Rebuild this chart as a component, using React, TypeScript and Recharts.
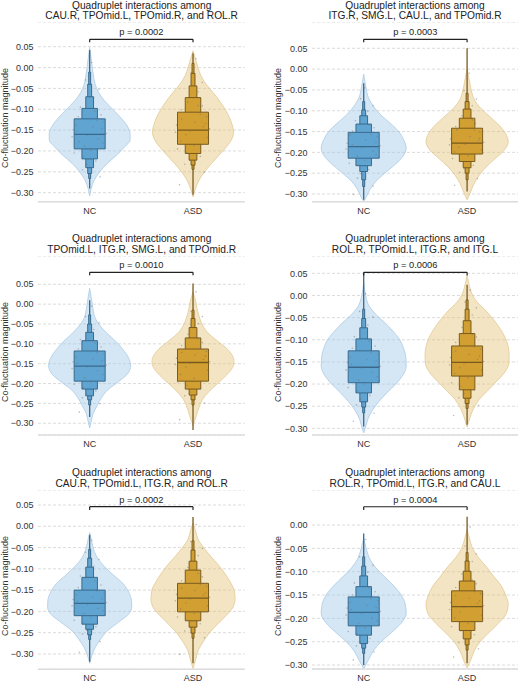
import React from 'react';
import {
  ComposedChart,
  Area,
  XAxis,
  YAxis,
  CartesianGrid,
  ReferenceArea,
  ReferenceLine,
  Scatter,
} from 'recharts';

// ---------------- data ----------------
const categories = ['NC', 'ASD'];

const titleLine1 = [
  'Quadruplet interactions among',
  'Quadruplet interactions among',
  'Quadruplet interactions among',
  'Quadruplet interactions among',
  'Quadruplet interactions among',
  'Quadruplet interactions among',
];
const titleLine2 = [
  'CAU.R, TPOmid.L, TPOmid.R, and ROL.R',
  'ITG.R, SMG.L, CAU.L, and TPOmid.R',
  'TPOmid.L, ITG.R, SMG.L, and TPOmid.R',
  'ROL.R, TPOmid.L, ITG.R, and ITG.L',
  'CAU.R, TPOmid.L, ITG.R, and ROL.R',
  'ROL.R, TPOmid.L, ITG.R, and CAU.L',
];
const pLabels = ['p = 0.0002', 'p = 0.0003', 'p = 0.0010', 'p = 0.0006', 'p = 0.0002', 'p = 0.0004'];
const bracketTop = [0.0677, 0.0716, 0.0802, 0.0523, 0.046, 0.0392];
const bracketFoot = [0.0605, 0.0644, 0.0727, 0.0453, 0.0383, 0.032];

const yTicksFull = [0.05, 0, -0.05, -0.1, -0.15, -0.2, -0.25, -0.3];
const yTicksNoTop = [0, -0.05, -0.1, -0.15, -0.2, -0.25, -0.3];
const yTickSets = [yTicksFull, yTicksFull, yTicksFull, yTicksFull, yTicksFull, yTicksNoTop];
const yAxisLabel = 'Co-fluctuation magnitude';

// violin profiles: [value, half-width in category units]
const p1NcViolin = [[0.048, 0], [0.02, 0.015], [-0.015, 0.034], [-0.04, 0.053], [-0.06, 0.087], [-0.08, 0.145], [-0.1, 0.223], [-0.12, 0.3], [-0.14, 0.363], [-0.16, 0.392], [-0.175, 0.39], [-0.19, 0.339], [-0.21, 0.261], [-0.23, 0.169], [-0.25, 0.097], [-0.27, 0.044], [-0.29, 0.015], [-0.308, 0]];
const p1AsdViolin = [[0.04, 0], [0.02, 0.024], [0, 0.048], [-0.02, 0.077], [-0.04, 0.126], [-0.06, 0.194], [-0.08, 0.257], [-0.1, 0.31], [-0.12, 0.353], [-0.14, 0.382], [-0.155, 0.392], [-0.17, 0.378], [-0.19, 0.324], [-0.21, 0.252], [-0.23, 0.179], [-0.25, 0.111], [-0.27, 0.058], [-0.29, 0.024], [-0.31, 0]];
const p2NcViolin = [[-0.012, 0], [-0.04, 0.019], [-0.07, 0.048], [-0.09, 0.097], [-0.11, 0.165], [-0.13, 0.257], [-0.15, 0.339], [-0.17, 0.387], [-0.19, 0.411], [-0.21, 0.378], [-0.23, 0.3], [-0.25, 0.203], [-0.27, 0.116], [-0.29, 0.058], [-0.31, 0.019], [-0.318, 0]];
const p2AsdViolin = [[0, 0], [-0.03, 0.024], [-0.055, 0.044], [-0.075, 0.073], [-0.095, 0.136], [-0.115, 0.223], [-0.135, 0.31], [-0.155, 0.373], [-0.175, 0.397], [-0.195, 0.358], [-0.215, 0.271], [-0.235, 0.184], [-0.255, 0.116], [-0.275, 0.068], [-0.295, 0.034], [-0.314, 0]];
const p3NcViolin = [[0.04, 0], [0.01, 0.019], [-0.015, 0.034], [-0.035, 0.053], [-0.055, 0.102], [-0.075, 0.174], [-0.095, 0.257], [-0.115, 0.324], [-0.135, 0.376], [-0.155, 0.397], [-0.175, 0.368], [-0.195, 0.281], [-0.215, 0.179], [-0.235, 0.116], [-0.255, 0.073], [-0.275, 0.034], [-0.295, 0.015], [-0.312, 0]];
const p3AsdViolin = [[0.03, 0], [0.01, 0.024], [-0.01, 0.039], [-0.03, 0.058], [-0.05, 0.087], [-0.07, 0.136], [-0.09, 0.223], [-0.11, 0.319], [-0.13, 0.382], [-0.145, 0.397], [-0.16, 0.382], [-0.18, 0.319], [-0.2, 0.237], [-0.22, 0.155], [-0.24, 0.092], [-0.26, 0.058], [-0.28, 0.034], [-0.305, 0]];
const p4NcViolin = [[0.03, 0], [0, 0.019], [-0.02, 0.044], [-0.04, 0.106], [-0.06, 0.198], [-0.08, 0.281], [-0.1, 0.349], [-0.12, 0.387], [-0.14, 0.407], [-0.16, 0.411], [-0.18, 0.378], [-0.2, 0.31], [-0.22, 0.223], [-0.24, 0.145], [-0.26, 0.082], [-0.28, 0.039], [-0.3, 0.015], [-0.31, 0]];
const p4AsdViolin = [[0.045, 0], [0.025, 0.019], [0.005, 0.044], [-0.015, 0.097], [-0.035, 0.184], [-0.055, 0.257], [-0.075, 0.319], [-0.095, 0.368], [-0.115, 0.397], [-0.135, 0.407], [-0.155, 0.402], [-0.175, 0.358], [-0.195, 0.281], [-0.215, 0.198], [-0.235, 0.116], [-0.255, 0.063], [-0.275, 0.029], [-0.297, 0]];
const p5NcViolin = [[-0.015, 0], [-0.035, 0.019], [-0.055, 0.039], [-0.075, 0.077], [-0.095, 0.145], [-0.115, 0.232], [-0.135, 0.324], [-0.155, 0.378], [-0.175, 0.405], [-0.19, 0.407], [-0.205, 0.382], [-0.225, 0.281], [-0.245, 0.174], [-0.265, 0.106], [-0.285, 0.053], [-0.305, 0.019], [-0.322, 0]];
const p5AsdViolin = [[0.008, 0], [-0.01, 0.024], [-0.03, 0.048], [-0.05, 0.102], [-0.07, 0.169], [-0.09, 0.242], [-0.11, 0.305], [-0.13, 0.358], [-0.15, 0.397], [-0.17, 0.407], [-0.19, 0.387], [-0.21, 0.319], [-0.23, 0.237], [-0.25, 0.16], [-0.27, 0.102], [-0.29, 0.053], [-0.31, 0.029], [-0.334, 0]];
const p6NcViolin = [[-0.028, 0], [-0.05, 0.024], [-0.07, 0.053], [-0.09, 0.111], [-0.11, 0.198], [-0.13, 0.29], [-0.15, 0.363], [-0.17, 0.402], [-0.19, 0.411], [-0.21, 0.363], [-0.23, 0.271], [-0.25, 0.169], [-0.27, 0.092], [-0.29, 0.044], [-0.308, 0]];
const p6AsdViolin = [[-0.01, 0], [-0.03, 0.024], [-0.05, 0.053], [-0.07, 0.111], [-0.09, 0.189], [-0.11, 0.257], [-0.13, 0.329], [-0.15, 0.373], [-0.17, 0.397], [-0.19, 0.378], [-0.21, 0.305], [-0.23, 0.213], [-0.25, 0.126], [-0.27, 0.068], [-0.29, 0.034], [-0.306, 0]];

// letter-value boxes, level 1 (IQR) .. level 5: [low, high]
const p1NcBoxen = [[-0.195, -0.123], [-0.219, -0.098], [-0.24, -0.07], [-0.254, -0.04], [-0.266, -0.011]];
const p1AsdBoxen = [[-0.184, -0.107], [-0.206, -0.072], [-0.222, -0.044], [-0.234, -0.014], [-0.244, 0.01]];
const p2NcBoxen = [[-0.214, -0.152], [-0.232, -0.132], [-0.246, -0.112], [-0.266, -0.098], [-0.282, -0.078]];
const p2AsdBoxen = [[-0.204, -0.142], [-0.222, -0.118], [-0.237, -0.096], [-0.25, -0.078], [-0.266, -0.058]];
const p3NcBoxen = [[-0.194, -0.118], [-0.214, -0.092], [-0.231, -0.071], [-0.241, -0.05], [-0.254, -0.027]];
const p3AsdBoxen = [[-0.194, -0.113], [-0.214, -0.085], [-0.229, -0.059], [-0.241, -0.036], [-0.254, -0.015]];
const p4NcBoxen = [[-0.197, -0.125], [-0.22, -0.098], [-0.24, -0.073], [-0.252, -0.052], [-0.265, -0.031]];
const p4AsdBoxen = [[-0.182, -0.114], [-0.213, -0.086], [-0.232, -0.057], [-0.244, -0.031], [-0.255, -0.01]];
const p5NcBoxen = [[-0.21, -0.15], [-0.23, -0.12], [-0.242, -0.096], [-0.255, -0.075], [-0.266, -0.054]];
const p5AsdBoxen = [[-0.201, -0.134], [-0.222, -0.103], [-0.237, -0.082], [-0.251, -0.056], [-0.263, -0.034]];
const p6NcBoxen = [[-0.216, -0.154], [-0.236, -0.132], [-0.254, -0.109], [-0.264, -0.088], [-0.275, -0.068]];
const p6AsdBoxen = [[-0.207, -0.141], [-0.226, -0.12], [-0.244, -0.099], [-0.257, -0.077], [-0.268, -0.059]];

const ncMedians = [-0.16, -0.186, -0.156, -0.162, -0.181, -0.187];
const asdMedians = [-0.15, -0.178, -0.147, -0.151, -0.169, -0.175];
const ncTails = [[-0.29, 0.042], [-0.314, -0.034], [-0.284, 0.01], [-0.296, 0.05], [-0.318, -0.02], [-0.3, -0.018]];
const asdTails = [[-0.305, 0.034], [-0.294, 0.05], [-0.317, 0.052], [-0.292, 0.024], [-0.322, 0.022], [-0.296, 0.018]];

// jittered observations: [offset from category, value]
const p1NcDots = [[-0.12, -0.152], [0.08, -0.171], [0.14, -0.131], [-0.05, -0.188], [0.03, -0.142], [-0.15, -0.205], [0.11, -0.113], [-0.09, -0.095], [0.06, -0.224], [-0.02, -0.162], [0.13, -0.181], [-0.13, -0.138], [0.04, -0.072], [-0.07, -0.245], [0.1, -0.262], [-0.04, -0.03], [0.02, 0.012], [-0.1, -0.178], [0.16, -0.158], [-0.17, -0.166], [0.07, -0.127], [-0.11, -0.118], [0.01, -0.198], [0.12, -0.146], [-0.06, -0.214], [0.15, -0.192], [-0.16, -0.149], [0.05, -0.105], [-0.03, -0.232], [0.09, -0.052]];
const p1AsdDots = [[0.1, -0.142], [-0.07, -0.161], [0.13, -0.118], [-0.12, -0.176], [0.02, -0.131], [-0.15, -0.195], [0.09, -0.092], [-0.05, -0.083], [0.07, -0.213], [-0.03, -0.152], [0.14, -0.168], [-0.11, -0.124], [0.05, -0.058], [-0.08, -0.232], [0.11, -0.251], [-0.02, -0.012], [0.03, 0.021], [-0.13, -0.281], [0.16, -0.147], [-0.17, -0.155], [0.07, -0.112], [-0.11, -0.101], [0.01, -0.187], [0.12, -0.134], [-0.06, -0.204], [0.15, -0.179], [-0.16, -0.138], [0.05, -0.091], [-0.03, -0.222], [0.09, -0.036]];
const p2NcDots = [[-0.11, -0.181], [0.09, -0.197], [0.13, -0.162], [-0.06, -0.209], [0.02, -0.171], [-0.14, -0.226], [0.1, -0.141], [-0.08, -0.124], [0.05, -0.241], [-0.02, -0.189], [0.12, -0.205], [-0.13, -0.158], [0.04, -0.101], [-0.06, -0.262], [0.09, -0.281], [-0.03, -0.071], [0.01, -0.045], [-0.1, -0.301], [0.16, -0.184], [-0.17, -0.192], [0.07, -0.157], [-0.11, -0.149], [0.01, -0.219], [0.12, -0.176], [-0.06, -0.231], [0.15, -0.212], [-0.16, -0.178], [0.05, -0.134], [-0.03, -0.251], [0.09, -0.088]];
const p2AsdDots = [[0.11, -0.171], [-0.08, -0.188], [0.12, -0.151], [-0.12, -0.199], [0.03, -0.162], [-0.14, -0.215], [0.08, -0.131], [-0.05, -0.112], [0.06, -0.231], [-0.02, -0.181], [0.14, -0.194], [-0.1, -0.146], [0.05, -0.088], [-0.07, -0.248], [0.1, -0.263], [-0.03, -0.052], [0.02, -0.01], [-0.12, -0.279], [0.16, -0.176], [-0.17, -0.182], [0.07, -0.147], [-0.11, -0.138], [0.01, -0.208], [0.12, -0.166], [-0.06, -0.222], [0.15, -0.201], [-0.16, -0.168], [0.05, -0.122], [-0.03, -0.239], [0.09, -0.072]];
const p3NcDots = [[-0.12, -0.149], [0.08, -0.168], [0.14, -0.127], [-0.05, -0.186], [0.03, -0.138], [-0.15, -0.202], [0.11, -0.108], [-0.09, -0.089], [0.06, -0.219], [-0.02, -0.158], [0.13, -0.177], [-0.13, -0.133], [0.04, -0.064], [-0.07, -0.236], [0.1, -0.251], [-0.04, -0.031], [0.02, -0.005], [-0.1, -0.272], [0.16, -0.154], [-0.17, -0.162], [0.07, -0.122], [-0.11, -0.113], [0.01, -0.196], [0.12, -0.142], [-0.06, -0.211], [0.15, -0.189], [-0.16, -0.145], [0.05, -0.098], [-0.03, -0.227], [0.09, -0.047]];
const p3AsdDots = [[0.1, -0.139], [-0.07, -0.158], [0.13, -0.119], [-0.12, -0.177], [0.02, -0.128], [-0.15, -0.196], [0.09, -0.097], [-0.05, -0.076], [0.07, -0.214], [-0.03, -0.149], [0.14, -0.166], [-0.11, -0.122], [0.05, -0.049], [-0.08, -0.231], [0.11, -0.249], [-0.02, -0.018], [0.03, 0.031], [-0.13, -0.291], [0.16, -0.145], [-0.17, -0.152], [0.07, -0.111], [-0.11, -0.104], [0.01, -0.187], [0.12, -0.131], [-0.06, -0.205], [0.15, -0.178], [-0.16, -0.136], [0.05, -0.087], [-0.03, -0.222], [0.09, -0.031]];
const p4NcDots = [[-0.12, -0.155], [0.08, -0.174], [0.14, -0.134], [-0.05, -0.191], [0.03, -0.145], [-0.15, -0.208], [0.11, -0.114], [-0.09, -0.093], [0.06, -0.226], [-0.02, -0.164], [0.13, -0.183], [-0.13, -0.139], [0.04, -0.067], [-0.07, -0.247], [0.1, -0.266], [-0.04, -0.036], [0.02, 0.004], [-0.1, -0.284], [0.16, -0.16], [-0.17, -0.168], [0.07, -0.128], [-0.11, -0.119], [0.01, -0.2], [0.12, -0.148], [-0.06, -0.216], [0.15, -0.194], [-0.16, -0.151], [0.05, -0.103], [-0.03, -0.234], [0.09, -0.049]];
const p4AsdDots = [[0.1, -0.144], [-0.07, -0.163], [0.13, -0.121], [-0.12, -0.176], [0.02, -0.133], [-0.15, -0.197], [0.09, -0.094], [-0.05, -0.072], [0.07, -0.214], [-0.03, -0.153], [0.14, -0.169], [-0.11, -0.126], [0.05, -0.044], [-0.08, -0.231], [0.11, -0.248], [-0.02, -0.015], [0.03, 0.012], [-0.13, -0.271], [0.16, -0.149], [-0.17, -0.157], [0.07, -0.116], [-0.11, -0.106], [0.01, -0.186], [0.12, -0.137], [-0.06, -0.205], [0.15, -0.179], [-0.16, -0.14], [0.05, -0.088], [-0.03, -0.221], [0.09, -0.028]];
const p5NcDots = [[-0.12, -0.176], [0.08, -0.193], [0.14, -0.157], [-0.05, -0.205], [0.03, -0.166], [-0.15, -0.221], [0.11, -0.138], [-0.09, -0.117], [0.06, -0.236], [-0.02, -0.184], [0.13, -0.199], [-0.13, -0.161], [0.04, -0.094], [-0.07, -0.253], [0.1, -0.271], [-0.04, -0.061], [0.02, -0.033], [-0.1, -0.296], [0.16, -0.179], [-0.17, -0.187], [0.07, -0.152], [-0.11, -0.144], [0.01, -0.214], [0.12, -0.171], [-0.06, -0.228], [0.15, -0.208], [-0.16, -0.172], [0.05, -0.128], [-0.03, -0.244], [0.09, -0.078]];
const p5AsdDots = [[0.1, -0.162], [-0.07, -0.181], [0.13, -0.141], [-0.12, -0.194], [0.02, -0.151], [-0.15, -0.213], [0.09, -0.119], [-0.05, -0.097], [0.07, -0.229], [-0.03, -0.171], [0.14, -0.187], [-0.11, -0.146], [0.05, -0.069], [-0.08, -0.246], [0.11, -0.262], [-0.02, -0.036], [0.03, 0.004], [-0.13, -0.301], [0.16, -0.167], [-0.17, -0.175], [0.07, -0.137], [-0.11, -0.128], [0.01, -0.205], [0.12, -0.157], [-0.06, -0.221], [0.15, -0.197], [-0.16, -0.16], [0.05, -0.111], [-0.03, -0.238], [0.09, -0.052]];
const p6NcDots = [[-0.12, -0.181], [0.08, -0.199], [0.14, -0.162], [-0.05, -0.211], [0.03, -0.172], [-0.15, -0.228], [0.11, -0.143], [-0.09, -0.124], [0.06, -0.243], [-0.02, -0.19], [0.13, -0.205], [-0.13, -0.166], [0.04, -0.101], [-0.07, -0.259], [0.1, -0.272], [-0.04, -0.068], [0.02, -0.031], [-0.1, -0.289], [0.16, -0.185], [-0.17, -0.193], [0.07, -0.158], [-0.11, -0.15], [0.01, -0.22], [0.12, -0.177], [-0.06, -0.234], [0.15, -0.214], [-0.16, -0.178], [0.05, -0.135], [-0.03, -0.25], [0.09, -0.086]];
const p6AsdDots = [[0.1, -0.168], [-0.07, -0.186], [0.13, -0.147], [-0.12, -0.199], [0.02, -0.157], [-0.15, -0.218], [0.09, -0.126], [-0.05, -0.105], [0.07, -0.235], [-0.03, -0.177], [0.14, -0.193], [-0.11, -0.151], [0.05, -0.078], [-0.08, -0.252], [0.11, -0.265], [-0.02, -0.045], [0.03, -0.004], [-0.13, -0.283], [0.16, -0.173], [-0.17, -0.181], [0.07, -0.143], [-0.11, -0.134], [0.01, -0.211], [0.12, -0.163], [-0.06, -0.227], [0.15, -0.203], [-0.16, -0.166], [0.05, -0.118], [-0.03, -0.243], [0.09, -0.062]];

const ncViolins = [p1NcViolin, p2NcViolin, p3NcViolin, p4NcViolin, p5NcViolin, p6NcViolin];
const asdViolins = [p1AsdViolin, p2AsdViolin, p3AsdViolin, p4AsdViolin, p5AsdViolin, p6AsdViolin];
const ncBoxens = [p1NcBoxen, p2NcBoxen, p3NcBoxen, p4NcBoxen, p5NcBoxen, p6NcBoxen];
const asdBoxens = [p1AsdBoxen, p2AsdBoxen, p3AsdBoxen, p4AsdBoxen, p5AsdBoxen, p6AsdBoxen];
const ncDots = [p1NcDots, p2NcDots, p3NcDots, p4NcDots, p5NcDots, p6NcDots];
const asdDots = [p1AsdDots, p2AsdDots, p3AsdDots, p4AsdDots, p5AsdDots, p6AsdDots];

// ---------------- layout / style ----------------
const FONT = '"Liberation Sans", Arial, Helvetica, sans-serif';
const Y_AXIS_W = 36;
const X_AXIS_H = 18;
const BOX_HALF_WIDTHS = [0.15, 0.075, 0.0375, 0.019, 0.0095];

const LAYOUT = [
  { pl: 38.3, pr: 245, pt: 22, pb: 201.7, domain: [-0.3216, 0.1092], label: [5.3, 118.3], titleTop: 0.6 },
  { pl: 311.6, pr: 518.4, pt: 22, pb: 201.7, domain: [-0.3185, 0.1132], label: [278, 118.3], titleTop: 0.6 },
  { pl: 38.3, pr: 245, pt: 256, pb: 435, domain: [-0.3296, 0.1213], label: [5.3, 352.3], titleTop: 234 },
  { pl: 311.6, pr: 518.4, pt: 256, pb: 435, domain: [-0.315, 0.0891], label: [278, 352.3], titleTop: 234 },
  { pl: 38.3, pr: 245, pt: 490, pb: 669.3, domain: [-0.336, 0.0852], label: [5.3, 586.3], titleTop: 468 },
  { pl: 311.6, pr: 518.4, pt: 490, pb: 669, domain: [-0.3085, 0.0751], label: [278, 586.3], titleTop: 468 },
];

const GROUP_STYLE = [
  { violinFill: '#9cc4e4', violinStroke: '#b2cfe6', box: '#60a5d2', edge: '#3a698c' },
  { violinFill: '#e3c06f', violinStroke: '#e4cd9b', box: '#d2a032', edge: '#785a1e' },
];

const fmtTick = (v: number) => (v < -1e-9 ? '\u2212' : '') + Math.abs(v).toFixed(2);

const Dot = (props: any) => {
  if (props.cx == null || props.cy == null) return null;
  return <circle cx={props.cx} cy={props.cy} r={0.8} fill="#6f6f6f" fillOpacity={0.45} />;
};

function groupInfo(panel: number, g: number) {
  const center = g;
  const style = GROUP_STYLE[g];
  const violin = (g === 0 ? ncViolins : asdViolins)[panel];
  const boxen = (g === 0 ? ncBoxens : asdBoxens)[panel];
  const median = (g === 0 ? ncMedians : asdMedians)[panel];
  const tail = (g === 0 ? ncTails : asdTails)[panel];
  const rows = violin.map(([y, hw]) => ({ y, range: [center - hw, center + hw] }));
  return { rows, boxen, median, tail, style, center };
}

function Panel({ i }: { i: number }) {
  const L = LAYOUT[i];
  const w = L.pr - L.pl + Y_AXIS_W;
  const h = L.pb - L.pt + X_AXIS_H;
  const groups = [groupInfo(i, 0), groupInfo(i, 1)];
  const dotRows = [
    ...ncDots[i].map(([dx, y]) => ({ x: 0 + dx, y })),
    ...asdDots[i].map(([dx, y]) => ({ x: 1 + dx, y })),
  ];
  const tickStyle = { fontSize: 9, fill: '#333', fontFamily: FONT };
  return (
    <div style={{ position: 'absolute', left: L.pl - Y_AXIS_W, top: L.pt, width: w, height: h }}>
      <ComposedChart width={w} height={h} layout="vertical" margin={{ top: 0, right: 0, bottom: 0, left: 0 }}>
        <CartesianGrid vertical={false} stroke="#d2d2d2" strokeDasharray="3 2" strokeWidth={0.8} />
        <XAxis
          type="number"
          dataKey="x"
          domain={[-0.5, 1.5]}
          ticks={[0, 1]}
          interval={0}
          allowDataOverflow
          height={X_AXIS_H}
          tickLine={false}
          tickSize={0}
          tickMargin={5.5}
          axisLine={{ stroke: '#dcdcdc', strokeWidth: 1.5 }}
          tick={tickStyle}
          tickFormatter={(v: number) => categories[v] ?? ''}
        />
        <YAxis
          type="number"
          dataKey="y"
          domain={L.domain}
          ticks={yTickSets[i]}
          interval={0}
          reversed
          allowDataOverflow
          width={Y_AXIS_W}
          axisLine={false}
          tickLine={false}
          tickSize={0}
          tickMargin={4.5}
          tick={tickStyle}
          tickFormatter={fmtTick}
        />
        {groups.map((gr, g) => (
          <Area
            key={`v${g}`}
            data={gr.rows}
            dataKey="range"
            type="monotone"
            fill={gr.style.violinFill}
            fillOpacity={0.42}
            stroke={gr.style.violinStroke}
            strokeWidth={0.9}
            dot={false}
            activeDot={false}
            isAnimationActive={false}
            zIndex={100 + g}
          />
        ))}
        {groups.map((gr, g) => (
          <ReferenceLine
            key={`t${g}`}
            segment={[{ x: gr.center, y: gr.tail[0] }, { x: gr.center, y: gr.tail[1] }]}
            stroke={gr.style.edge}
            strokeWidth={1.3}
            ifOverflow="hidden"
            zIndex={150}
          />
        ))}
        {groups.map((gr, g) =>
          gr.boxen
            .map((lv, k) => ({ lv, k }))
            .reverse()
            .map(({ lv, k }) => (
              <ReferenceArea
                key={`b${g}-${k}`}
                x1={gr.center - BOX_HALF_WIDTHS[k]}
                x2={gr.center + BOX_HALF_WIDTHS[k]}
                y1={lv[0]}
                y2={lv[1]}
                fill={gr.style.box}
                fillOpacity={1}
                stroke={gr.style.edge}
                strokeWidth={1}
                strokeOpacity={1}
                ifOverflow="hidden"
                zIndex={200}
              />
            ))
        )}
        {groups.map((gr, g) => (
          <ReferenceLine
            key={`m${g}`}
            segment={[
              { x: gr.center - BOX_HALF_WIDTHS[0], y: gr.median },
              { x: gr.center + BOX_HALF_WIDTHS[0], y: gr.median },
            ]}
            stroke={gr.style.edge}
            strokeWidth={1.3}
            ifOverflow="hidden"
            zIndex={250}
          />
        ))}
        <Scatter data={dotRows} dataKey="y" shape={Dot} isAnimationActive={false} zIndex={600} />
        <ReferenceLine
          segment={[{ x: 0, y: bracketFoot[i] }, { x: 0, y: bracketTop[i] }]}
          stroke="#222"
          strokeWidth={1.2}
          ifOverflow="hidden"
          zIndex={700}
        />
        <ReferenceLine
          segment={[{ x: 1, y: bracketFoot[i] }, { x: 1, y: bracketTop[i] }]}
          stroke="#222"
          strokeWidth={1.2}
          ifOverflow="hidden"
          zIndex={700}
        />
        <ReferenceLine
          segment={[{ x: 0, y: bracketTop[i] }, { x: 1, y: bracketTop[i] }]}
          stroke="#222"
          strokeWidth={1.2}
          ifOverflow="hidden"
          zIndex={700}
          label={{ value: pLabels[i], position: 'top', offset: 4, fontSize: 9.3, fill: '#222', fontFamily: FONT }}
        />
      </ComposedChart>
    </div>
  );
}

function Texts({ i }: { i: number }) {
  const L = LAYOUT[i];
  const cx = (L.pl + L.pr) / 2;
  const lineStyle: React.CSSProperties = {
    fontFamily: FONT,
    fontSize: '10.2px',
    lineHeight: '10.7px',
    color: '#222',
    whiteSpace: 'nowrap',
  };
  return (
    <>
      <div
        style={{
          position: 'absolute',
          left: cx - 130,
          top: L.titleTop,
          width: 260,
          textAlign: 'center',
        }}
      >
        <div style={lineStyle}>{titleLine1[i]}</div>
        <div style={lineStyle}>{titleLine2[i]}</div>
      </div>
      <div
        style={{
          position: 'absolute',
          left: L.label[0],
          top: L.label[1],
          transform: 'translate(-50%, -50%) rotate(-90deg)',
          fontFamily: FONT,
          fontSize: '9px',
          lineHeight: '10px',
          color: '#333',
          whiteSpace: 'nowrap',
        }}
      >
        {yAxisLabel}
      </div>
    </>
  );
}

export default function App() {
  return (
    <div
      style={{
        position: 'absolute',
        left: 0,
        top: 0,
        width: 519,
        height: 683,
        background: '#ffffff',
        overflow: 'hidden',
      }}
    >
      {[0, 1, 2, 3, 4, 5].map((i) => (
        <Panel key={`p${i}`} i={i} />
      ))}
      {[0, 1, 2, 3, 4, 5].map((i) => (
        <Texts key={`t${i}`} i={i} />
      ))}
    </div>
  );
}
